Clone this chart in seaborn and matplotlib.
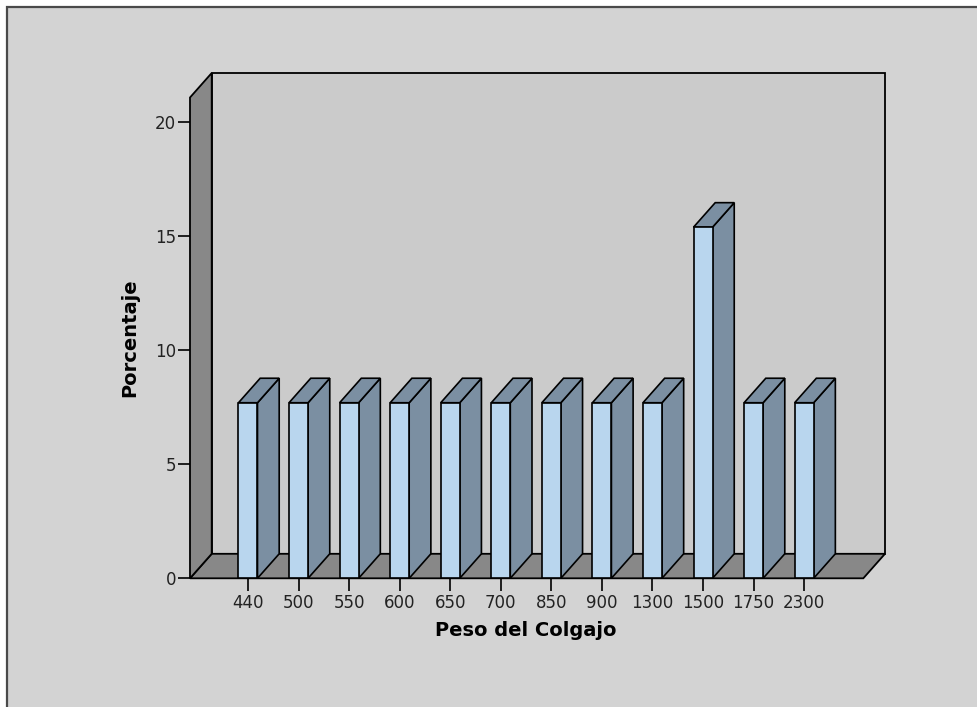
import matplotlib
matplotlib.use("Agg")
import matplotlib.pyplot as plt
import seaborn as sns
import pandas as pd
from matplotlib.patches import Polygon, Rectangle

# ---- data ----
categories = ["440", "500", "550", "600", "650", "700", "850", "900",
              "1300", "1500", "1750", "2300"]
percentages = [7.69, 7.69, 7.69, 7.69, 7.69, 7.69, 7.69, 7.69,
               7.69, 15.38, 7.69, 7.69]
yticks = [0, 5, 10, 15, 20]
xlabel = "Peso del Colgajo"
ylabel = "Porcentaje"

# ---- style ----
sns.set_theme(style="white")
plt.rcParams['font.family'] = ['DejaVu Sans']

W, H = 978, 707
fig = plt.figure(figsize=(W / 100, H / 100), dpi=100)
fig.patch.set_facecolor("white")

# outer grey panel
panel = Rectangle((7 / W, -0.05), 1.2, 1 - 7 / H + 0.05, transform=fig.transFigure,
                  facecolor="#d3d3d3", edgecolor="#4a4a4a", lw=1.6, zorder=-10)
fig.patches.append(panel)

# front plane axes
x_left, x_right = 190, 863.3
y_bot, y_top = 578.3, 97.5
ax = fig.add_axes([x_left / W, 1 - y_bot / H, (x_right - x_left) / W, (y_bot - y_top) / H])
ax.patch.set_alpha(0)

df = pd.DataFrame({"Peso": categories, "Porcentaje": percentages})
sns.barplot(data=df, x="Peso", y="Porcentaje", order=categories, color="#b9d6ee",
            saturation=1, width=0.376, edgecolor="black", linewidth=1.2, ax=ax, zorder=5)

x0, x1 = -1.147, 12.17
ytop = 21.06
ax.set_xlim(x0, x1)
ax.set_ylim(0, ytop)

dx = 21.7 / ((x_right - x_left) / (x1 - x0))
dy = 24.5 / ((y_bot - y_top) / ytop)

wall_col = "#888888"
# back wall
ax.add_patch(Polygon([(x0 + dx, dy), (x1 + dx, dy), (x1 + dx, ytop + dy), (x0 + dx, ytop + dy)],
                     closed=True, facecolor="#cbcbcb", edgecolor="black", lw=1.3,
                     clip_on=False, zorder=1))
# floor
ax.add_patch(Polygon([(x0, 0), (x1, 0), (x1 + dx, dy), (x0 + dx, dy)],
                     closed=True, facecolor=wall_col, edgecolor="black", lw=1.3,
                     clip_on=False, zorder=2))
# left wall
ax.add_patch(Polygon([(x0, 0), (x0 + dx, dy), (x0 + dx, ytop + dy), (x0, ytop)],
                     closed=True, facecolor=wall_col, edgecolor="black", lw=1.3,
                     clip_on=False, zorder=2))

# 3D sides / tops of bars
side_col = "#7b8fa2"
for p in list(ax.patches):
    if not isinstance(p, Rectangle):
        continue
    bx, bw, bh = p.get_x(), p.get_width(), p.get_height()
    if bh <= 0:
        continue
    r = bx + bw
    ax.add_patch(Polygon([(r, 0), (r + dx, dy), (r + dx, bh + dy), (r, bh)],
                         closed=True, facecolor=side_col, edgecolor="black", lw=1.2,
                         clip_on=False, zorder=4))
    ax.add_patch(Polygon([(bx, bh), (r, bh), (r + dx, bh + dy), (bx + dx, bh + dy)],
                         closed=True, facecolor=side_col, edgecolor="black", lw=1.2,
                         clip_on=False, zorder=4))

for s in ax.spines.values():
    s.set_visible(False)

ax.set_yticks(yticks)
ax.set_yticklabels([str(t) for t in yticks])
ax.tick_params(axis="both", bottom=True, left=True, length=9, width=1.2, color="black",
               labelsize=12, labelcolor="#222222", direction="out")
ax.tick_params(axis="y", pad=1)
ax.tick_params(axis="x", pad=2)
ax.grid(False)

ax.set_xlabel(xlabel, fontsize=14, fontweight="bold", color="black")
ax.set_ylabel(ylabel, fontsize=14, fontweight="bold", color="black")
ax.xaxis.label.set_va("center")
ax.yaxis.label.set_va("center")
ax.xaxis.set_label_coords(0.4986, -0.1096)
ax.yaxis.set_label_coords(-0.089, 0.5)

fig.savefig("out.png", dpi=100, facecolor=fig.get_facecolor())
